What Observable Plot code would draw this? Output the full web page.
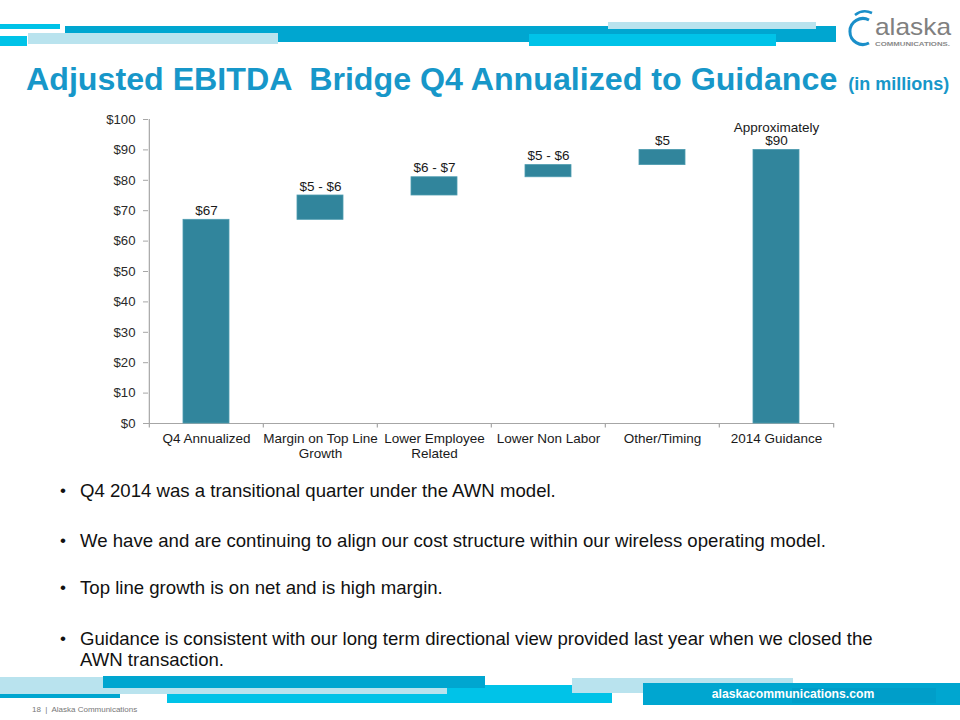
<!DOCTYPE html>
<html>
<head>
<meta charset="utf-8">
<script src="https://cdn.jsdelivr.net/npm/d3@7"></script>
<script src="https://cdn.jsdelivr.net/npm/@observablehq/plot@0.6"></script>
<style>
  html, body { margin: 0; padding: 0; background: #fff; }
  #slide { position: relative; width: 960px; height: 720px; overflow: hidden; background: #fff;
           font-family: 'Liberation Sans', Arial, sans-serif; }
  .bar { position: absolute; }
  .cyan { background: #00c3e8; }
  .blue { background: #00a6d0; }
  .pale { background: #b9e3ee; }
  #title { position: absolute; left: 26px; top: 63px; font-size: 32.2px; line-height: 1; font-weight: bold;
           color: #1797c9; white-space: pre; }
  #title span { font-size: 18px; margin-left: 2px; }
  .bullet { position: absolute; left: 60px; width: 860px; font-size: 18.6px; line-height: 21px; color: #111; }
  .bullet .dot { position: absolute; left: 0; font-size: 17px; }
  .bullet .txt { position: absolute; left: 20px; width: 805px; }
  #chart { position: absolute; left: 0; top: 100px; }
  #footer-url { position: absolute; left: 643px; top: 683px; width: 300px; height: 22px; text-align: center;
                color: #fff; font-weight: bold; font-size: 12.2px; line-height: 22px; }
  #page { position: absolute; left: 32px; top: 705px; font-size: 8px; color: #777; }
</style>
</head>
<body>
<div id="slide">
  <!-- top decorative bars -->
  <div class="bar blue" style="left:65px;top:26px;width:771px;height:16px"></div>
  <div class="bar pale" style="left:28px;top:33px;width:250px;height:11px"></div>
  <div class="bar cyan" style="left:0;top:24px;width:60px;height:5px"></div>
  <div class="bar cyan" style="left:0;top:36px;width:27px;height:10px"></div>
  <div class="bar pale" style="left:608px;top:22px;width:208px;height:7px"></div>
  <div class="bar cyan" style="left:529px;top:34px;width:247px;height:12px"></div>

  <!-- logo -->
  <svg style="position:absolute;left:840px;top:6px" width="120" height="48">
    <path d="M 29 14 A 13 13 0 1 0 29 37" fill="none" stroke="#1a8fc9" stroke-width="3"/>
    <path d="M 15 9 A 16 16 0 0 1 32 7" fill="none" stroke="#1a8fc9" stroke-width="2.5"/>
    <text x="35" y="29" font-size="24" textLength="76" lengthAdjust="spacingAndGlyphs" fill="#808080" font-family="'Liberation Sans', Arial, sans-serif">alaska</text>
    <text x="35" y="40" font-size="6.2" font-weight="bold" textLength="75" lengthAdjust="spacingAndGlyphs" fill="#8a8a8a" font-family="'Liberation Sans', Arial, sans-serif">COMMUNICATIONS.</text>
  </svg>

  <div id="title">Adjusted EBITDA  Bridge Q4 Annualized to Guidance <span>(in millions)</span></div>

  <div id="chart"></div>

  <div class="bullet" style="top:480px"><span class="dot">•</span><span class="txt">Q4 2014 was a transitional quarter under the AWN model.</span></div>
  <div class="bullet" style="top:530px"><span class="dot">•</span><span class="txt">We have and are continuing to align our cost structure within our wireless operating model.</span></div>
  <div class="bullet" style="top:577px"><span class="dot">•</span><span class="txt">Top line growth is on net and is high margin.</span></div>
  <div class="bullet" style="top:628px"><span class="dot">•</span><span class="txt">Guidance is consistent with our long term directional view provided last year when we closed the AWN transaction.</span></div>

  <!-- bottom decorative bars -->
  <div class="bar pale" style="left:0;top:677px;width:103px;height:17px"></div>
  <div class="bar cyan" style="left:167px;top:685px;width:445px;height:18px"></div>
  <div class="bar pale" style="left:103px;top:688px;width:344px;height:6px"></div>
  <div class="bar blue" style="left:103px;top:676px;width:382px;height:12px"></div>
  <div class="bar blue" style="left:0;top:694px;width:120px;height:4px"></div>
  <div class="bar pale" style="left:572px;top:678px;width:221px;height:15px"></div>
  <div class="bar blue" style="left:643px;top:683px;width:317px;height:22px"></div>
  <div class="bar" style="left:792px;top:688px;width:144px;height:15px;background:#009ec9"></div>
  <div id="footer-url">alaskacommunications.com</div>
  <div id="page">18&nbsp; |&nbsp; Alaska Communications</div>
</div>

<script>
// ---- data ----
const categories = ["Q4 Annualized", "Margin on Top Line Growth", "Lower Employee Related", "Lower Non Labor", "Other/Timing", "2014 Guidance"];
const tickLabels = ["Q4 Annualized", "Margin on Top Line\nGrowth", "Lower Employee\nRelated", "Lower Non Labor", "Other/Timing", "2014 Guidance"];
const barStart = [0, 67, 75, 81, 85, 0];
const barEnd = [67, 75, 81, 85, 90, 90];
const valueLabels = ["$67", "$5 - $6", "$6 - $7", "$5 - $6", "$5", "Approximately\n$90"];
const yTicks = [0, 10, 20, 30, 40, 50, 60, 70, 80, 90, 100];

const rows = categories.map((c, i) => ({
  cat: c, tick: tickLabels[i], start: barStart[i], end: barEnd[i], label: valueLabels[i]
}));

const W = 960, H = 370, mL = 148, mR = 126, mT = 19, mB = 47;
const halfStep = (W - mL - mR) / categories.length / 2;
const axisColor = "#a6a6a6";
const font = "'Liberation Sans', Arial, sans-serif";

const chart = Plot.plot({
  width: W, height: H,
  marginLeft: mL, marginRight: mR, marginTop: mT, marginBottom: mB,
  style: { fontFamily: font, fontSize: "13px", color: "#222", background: "transparent", overflow: "visible" },
  x: { domain: categories, paddingInner: 0.6, paddingOuter: 0.3, axis: null },
  y: { domain: [0, 100] },
  marks: [
    Plot.axisY({ ticks: yTicks, tickFormat: d => "$" + d, tickSize: 5, tickPadding: 8, fontSize: 13.2,
                 stroke: axisColor, fill: "#2a2a2a", label: null }),
    Plot.ruleY([0], { stroke: axisColor, strokeWidth: 1.2 }),
    Plot.ruleX([categories[0]], { dx: -halfStep, y1: -1.5, y2: 100, stroke: axisColor, strokeWidth: 1.2 }),
    Plot.ruleX(categories.slice(1), { dx: -halfStep, y1: 0, y2: -1.5, stroke: axisColor, strokeWidth: 1.2 }),
    Plot.ruleX([categories[categories.length - 1]], { dx: halfStep, y1: 0, y2: -1.5, stroke: axisColor, strokeWidth: 1.2 }),
    Plot.barY(rows, { x: "cat", y1: "start", y2: "end", fill: "#31859c", stroke: "#4d9bb0", strokeWidth: 0.8 }),
    Plot.text(rows, { x: "cat", y: "end", text: "label", dy: -5, lineAnchor: "bottom", fontSize: 13.5, lineHeight: 0.97, fill: "#1a1a1a" }),
    Plot.text(rows, { x: "cat", y: 0, text: "tick", dy: 9, lineAnchor: "top", fontSize: 13.5, lineHeight: 1.1, fill: "#1a1a1a" })
  ]
});
document.getElementById("chart").appendChild(chart);
</script>
</body>
</html>
